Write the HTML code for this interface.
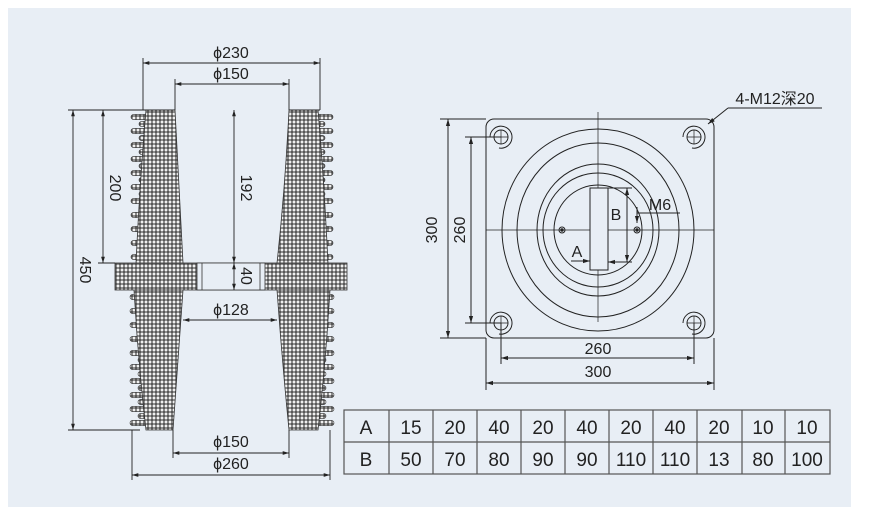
<!DOCTYPE html>
<html><head><meta charset="utf-8"><style>
html,body{margin:0;padding:0;background:#fff;}
svg{display:block;}
text{font-family:"Liberation Sans","Noto Sans CJK SC",sans-serif;fill:#222;}
</style></head><body>
<svg id="s" width="877" height="519" viewBox="0 0 877 519" xmlns="http://www.w3.org/2000/svg">
<defs>
<pattern id="h" width="4" height="4" patternUnits="userSpaceOnUse">
<rect width="4" height="4" fill="#555"/>
<circle cx="2" cy="2" r="1.45" fill="#f0f0f0"/>
</pattern>
<marker id="a" viewBox="0 0 10 10" refX="10" refY="5" markerWidth="7" markerHeight="7" orient="auto-start-reverse"><path d="M0,2L10,5L0,8z" fill="#222"/></marker>
</defs>
<rect x="8" y="8" width="843" height="499" fill="#e8eef5"/>
<g id="fins"></g>
<path d="M146,110 L175,110 Q179,190 183,263 L183,290 Q178,360 173,430 L146,430 Q138,360 134,290 L136,263 Q140,180 146,110Z" fill="url(#h)" stroke="#333" stroke-width="0.8"/>
<path d="M318,110 L289,110 Q285,190 277,263 L277,290 Q282,360 289,430 L318,430 Q326,360 330,290 L328,263 Q324,180 318,110Z" fill="url(#h)" stroke="#333" stroke-width="0.8"/>
<rect x="115" y="263" width="232" height="27" fill="url(#h)" stroke="#333" stroke-width="0.8"/>
<rect x="197" y="263" width="68" height="27" fill="#e8eef5" stroke="#333" stroke-width="0.8"/>
<line x1="202" y1="263" x2="202" y2="290" stroke="#333" stroke-width="0.8"/>
<line x1="260" y1="263" x2="260" y2="290" stroke="#333" stroke-width="0.8"/>
<g stroke="#222" stroke-width="0.9" fill="none">
<line x1="143" y1="58" x2="143" y2="110"/><line x1="320" y1="58" x2="320" y2="110"/>
<line x1="175" y1="79" x2="175" y2="110"/><line x1="289" y1="79" x2="289" y2="110"/>
<line x1="68" y1="110" x2="175" y2="110"/><line x1="289" y1="110" x2="320" y2="110"/>
<line x1="98" y1="263" x2="115" y2="263"/>
<line x1="68" y1="430" x2="140" y2="430"/>
<line x1="173" y1="430" x2="173" y2="458"/><line x1="289" y1="430" x2="289" y2="458"/>
<line x1="132" y1="430" x2="132" y2="480"/><line x1="330" y1="430" x2="330" y2="480"/>
<line x1="143" y1="63" x2="320" y2="63" marker-start="url(#a)" marker-end="url(#a)"/>
<line x1="175" y1="84" x2="289" y2="84" marker-start="url(#a)" marker-end="url(#a)"/>
<line x1="73" y1="110" x2="73" y2="430" marker-start="url(#a)" marker-end="url(#a)"/>
<line x1="103" y1="110" x2="103" y2="263" marker-start="url(#a)" marker-end="url(#a)"/>
<line x1="234" y1="110" x2="234" y2="263" marker-start="url(#a)" marker-end="url(#a)"/>
<line x1="234" y1="263" x2="234" y2="290" marker-start="url(#a)" marker-end="url(#a)"/>
<line x1="183" y1="320" x2="277" y2="320" marker-start="url(#a)" marker-end="url(#a)"/>
<line x1="173" y1="453" x2="289" y2="453" marker-start="url(#a)" marker-end="url(#a)"/>
<line x1="132" y1="475" x2="330" y2="475" marker-start="url(#a)" marker-end="url(#a)"/>
</g>
<g font-size="16" text-anchor="middle">
<text x="231" y="58">ϕ230</text>
<text x="231" y="79">ϕ150</text>
<text x="231" y="315">ϕ128</text>
<text x="231" y="447">ϕ150</text>
<text x="231" y="469">ϕ260</text>
<text transform="translate(80,270) rotate(90)">450</text>
<text transform="translate(110,188) rotate(90)">200</text>
<text transform="translate(241,188) rotate(90)">192</text>
<text transform="translate(241,276) rotate(90)">40</text>
</g>
<g stroke="#222" stroke-width="1" fill="none">
<rect x="486" y="119" width="228" height="219" rx="8"/>
<ellipse cx="598" cy="230" rx="96" ry="101"/>
<ellipse cx="598" cy="230" rx="81" ry="87"/>
<ellipse cx="598" cy="230" rx="61" ry="66"/>
<ellipse cx="598" cy="230" rx="55" ry="57"/>
<ellipse cx="598" cy="230" rx="44" ry="45"/>
<line x1="486" y1="230" x2="714" y2="230" stroke-width="0.7"/>
<line x1="598" y1="112" x2="598" y2="322" stroke-width="0.7"/>
<rect x="590" y="188" width="18" height="82" fill="#e8eef5"/>
<circle cx="562" cy="230" r="3"/><circle cx="637" cy="230" r="3"/>
<circle cx="562" cy="230" r="1.2" fill="#222"/><circle cx="637" cy="230" r="1.2" fill="#222"/>
<g id="bolts"></g>
<line x1="608" y1="188" x2="632" y2="188"/><line x1="608" y1="262" x2="632" y2="262"/>
<line x1="627" y1="188" x2="627" y2="262" marker-start="url(#a)" marker-end="url(#a)"/>
<line x1="617" y1="262" x2="608" y2="262" marker-end="url(#a)"/>
<line x1="571" y1="261" x2="590" y2="261" marker-end="url(#a)"/>
<line x1="637" y1="213" x2="680" y2="213"/>
<line x1="637" y1="207" x2="637" y2="223" marker-end="url(#a)"/>
<line x1="728" y1="108" x2="822" y2="108"/>
<line x1="728" y1="108" x2="708" y2="124" marker-end="url(#a)"/>
<line x1="440" y1="119" x2="486" y2="119"/><line x1="440" y1="338" x2="486" y2="338"/>
<line x1="465" y1="137" x2="501" y2="137"/><line x1="465" y1="323" x2="501" y2="323"/>
<line x1="448" y1="119" x2="448" y2="338" marker-start="url(#a)" marker-end="url(#a)"/>
<line x1="471" y1="137" x2="471" y2="323" marker-start="url(#a)" marker-end="url(#a)"/>
<line x1="501" y1="323" x2="501" y2="364"/><line x1="694" y1="323" x2="694" y2="364"/>
<line x1="486" y1="338" x2="486" y2="390"/><line x1="714" y1="338" x2="714" y2="390"/>
<line x1="501" y1="358" x2="694" y2="358" marker-start="url(#a)" marker-end="url(#a)"/>
<line x1="486" y1="383" x2="714" y2="383" marker-start="url(#a)" marker-end="url(#a)"/>
</g>
<g font-size="16" text-anchor="middle">
<text x="598" y="354">260</text>
<text x="598" y="377">300</text>
<text transform="translate(437,230) rotate(-90)">300</text>
<text transform="translate(465,230) rotate(-90)">260</text>
<text x="616" y="220">B</text>
<text x="577" y="257">A</text>
<text x="660" y="210">M6</text>
<text x="775" y="104">4-M12深20</text>
</g>
<g stroke="#555" stroke-width="1.2" fill="none">
<rect x="344" y="410" width="486" height="64"/>
<line x1="344" y1="442" x2="830" y2="442"/>
<line x1="389" y1="410" x2="389" y2="474"/><line x1="433" y1="410" x2="433" y2="474"/>
<line x1="477" y1="410" x2="477" y2="474"/><line x1="521" y1="410" x2="521" y2="474"/>
<line x1="565" y1="410" x2="565" y2="474"/><line x1="609" y1="410" x2="609" y2="474"/>
<line x1="653" y1="410" x2="653" y2="474"/><line x1="697" y1="410" x2="697" y2="474"/>
<line x1="742" y1="410" x2="742" y2="474"/><line x1="785" y1="410" x2="785" y2="474"/>
</g>
<g font-size="19" text-anchor="middle" style="fill:#444">
<text x="366" y="434">A</text><text x="411" y="434">15</text><text x="455" y="434">20</text><text x="499" y="434">40</text><text x="543" y="434">20</text><text x="587" y="434">40</text><text x="631" y="434">20</text><text x="675" y="434">40</text><text x="719" y="434">20</text><text x="763" y="434">10</text><text x="807" y="434">10</text>
<text x="366" y="466">B</text><text x="411" y="466">50</text><text x="455" y="466">70</text><text x="499" y="466">80</text><text x="543" y="466">90</text><text x="587" y="466">90</text><text x="631" y="466">110</text><text x="675" y="466">110</text><text x="719" y="466">13</text><text x="763" y="466">80</text><text x="807" y="466">100</text>
</g>
</svg>
<script>
var ns="http://www.w3.org/2000/svg",f=document.getElementById("fins");
function fin(xBase,y,len,dir){var e=document.createElementNS(ns,"rect");var x=dir<0?xBase-len:xBase;e.setAttribute("x",x);e.setAttribute("y",y-2.6);e.setAttribute("width",len);e.setAttribute("height",5.2);e.setAttribute("rx",2.6);e.setAttribute("fill","url(#h)");e.setAttribute("stroke","#333");e.setAttribute("stroke-width","0.6");f.appendChild(e);}
function coreL(y){if(y<263)return 146-(y-110)/153*10;return 134+(y-290)/140*12;}
var i=0;
for(var y=117;y<258;y+=7,i++){var c=coreL(y);var L=(i%2==0)?c-131:c-139;fin(c+4,y,L+4,-1);fin(464-c-4,y,L+4,1);}
i=0;
for(var y=297;y<428;y+=7,i++){var c=coreL(y);var L=(i%2==0)?c-130:c-138;fin(c+4,y,L+4,-1);fin(464-c-4,y,L+4,1);}
var b=document.getElementById("bolts");
[[501,137],[694,137],[501,323],[694,323]].forEach(function(p){
var c=document.createElementNS(ns,"circle");c.setAttribute("cx",p[0]);c.setAttribute("cy",p[1]);c.setAttribute("r",7);b.appendChild(c);
var a=document.createElementNS(ns,"path");a.setAttribute("d","M"+(p[0]-11)+","+p[1]+" A11,11 0 1,1 "+(p[0]-2)+","+(p[1]+11));b.appendChild(a);
var l=document.createElementNS(ns,"path");l.setAttribute("d","M"+(p[0]-7)+","+p[1]+"H"+(p[0]+7)+"M"+p[0]+","+(p[1]-7)+"V"+(p[1]+7));l.setAttribute("stroke-width","0.7");b.appendChild(l);});
</script>
</body></html>
